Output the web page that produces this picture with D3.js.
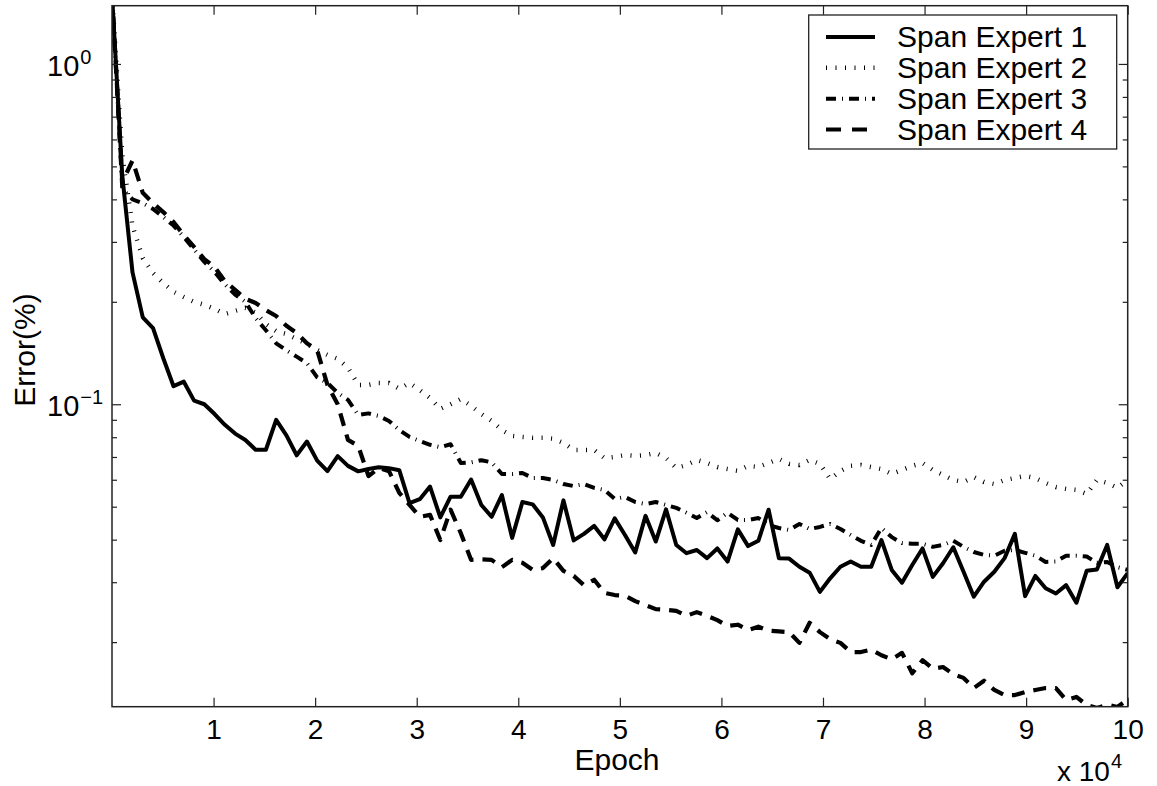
<!DOCTYPE html>
<html>
<head>
<meta charset="utf-8">
<script src="https://cdn.jsdelivr.net/npm/d3@7"></script>
<style>
  body { margin: 0; background: #fff; }
  text { font-family: "Liberation Sans", Arial, Helvetica, sans-serif; fill: #000; }
</style>
</head>
<body>
<div id="chart"></div>
<script>
// 100 samples per run, evenly spread over 0..1e5 epochs
var epochs = d3.range(100).map(i => i * 100000 / 99);

var expert1 = [1.6, 0.47, 0.244, 0.180, 0.1675, 0.1365, 0.113, 0.1165, 0.1025, 0.100,
  0.0936, 0.087, 0.082, 0.0785, 0.0735, 0.0735, 0.090, 0.081, 0.0708, 0.0777,
  0.0683, 0.0636, 0.0704, 0.0659, 0.0635, 0.0645, 0.0653, 0.0649, 0.064, 0.0512,
  0.0526, 0.0573, 0.0465, 0.0535, 0.0535, 0.0601, 0.0506, 0.0467, 0.0541, 0.0405,
  0.0516, 0.0508, 0.0465, 0.0386, 0.0522, 0.0398, 0.0416, 0.0439, 0.0401, 0.0462,
  0.0413, 0.0367, 0.0470, 0.0395, 0.0491, 0.0386, 0.0365, 0.0373, 0.0353, 0.0377,
  0.0345, 0.0429, 0.0383, 0.0397, 0.0490, 0.0353, 0.0352, 0.0333, 0.0320, 0.0281,
  0.0308, 0.0333, 0.0345, 0.0333, 0.0333, 0.0399, 0.0326, 0.0299, 0.0337, 0.0377,
  0.0311, 0.0341, 0.0380, 0.0322, 0.0272, 0.0301, 0.0322, 0.0353, 0.0416, 0.0273,
  0.0313, 0.0288, 0.0278, 0.0294, 0.0261, 0.0324, 0.0327, 0.0386, 0.0290, 0.0319];

var expert2 = [1.6, 0.54, 0.334, 0.269, 0.243, 0.227, 0.214, 0.2066, 0.200, 0.196,
  0.1906, 0.184, 0.188, 0.192, 0.186, 0.172, 0.164, 0.161, 0.1555, 0.1504,
  0.1444, 0.1396, 0.136, 0.128, 0.114, 0.114, 0.1155, 0.1155, 0.111, 0.1155,
  0.110, 0.1044, 0.0969, 0.100, 0.1036, 0.099, 0.0936, 0.0893, 0.084, 0.0807,
  0.0802, 0.0797, 0.0797, 0.0792, 0.077, 0.0734, 0.0734, 0.0734, 0.0695, 0.070,
  0.0709, 0.0705, 0.0709, 0.0719, 0.0695, 0.065, 0.0663, 0.0686, 0.0672, 0.0654,
  0.0645, 0.0637, 0.0659, 0.0654, 0.0672, 0.0691, 0.0668, 0.0663, 0.0686, 0.0668,
  0.0603, 0.0637, 0.0659, 0.0663, 0.0654, 0.0645, 0.0624, 0.0641, 0.0659, 0.0672,
  0.0641, 0.062, 0.0599, 0.0591, 0.0611, 0.0591, 0.0583, 0.0599, 0.0607, 0.0616,
  0.0607, 0.0587, 0.0571, 0.0564, 0.056, 0.0545, 0.0599, 0.0587, 0.0568, 0.0599];

var expert3 = [1.6, 0.43, 0.40, 0.39, 0.375, 0.355, 0.335, 0.31, 0.285, 0.262,
  0.245, 0.225, 0.21, 0.20, 0.179, 0.165, 0.151, 0.144, 0.138, 0.132,
  0.120, 0.1155, 0.108, 0.103, 0.093, 0.094, 0.0924, 0.0893, 0.084, 0.0802,
  0.078, 0.076, 0.0748, 0.0763, 0.0672, 0.0675, 0.0685, 0.0675, 0.0624, 0.0624,
  0.0628, 0.0607, 0.0607, 0.0599, 0.0583, 0.0575, 0.0583, 0.0568, 0.056, 0.0527,
  0.0534, 0.0516, 0.0509, 0.0516, 0.0506, 0.0496, 0.048, 0.0463, 0.0482, 0.0456,
  0.048, 0.0457, 0.0457, 0.0463, 0.0442, 0.0433, 0.0427, 0.0445, 0.043, 0.0436,
  0.0445, 0.043, 0.0413, 0.0397, 0.0386, 0.0433, 0.0407, 0.0391, 0.0389, 0.0389,
  0.0381, 0.0386, 0.0397, 0.0381, 0.0368, 0.0361, 0.0359, 0.0371, 0.0373, 0.0366,
  0.0359, 0.0344, 0.0345, 0.0359, 0.0359, 0.0357, 0.0342, 0.0344, 0.0332, 0.0326];

var expert4 = [1.6, 0.45, 0.52, 0.418, 0.39, 0.367, 0.343, 0.314, 0.29, 0.267,
  0.253, 0.230, 0.217, 0.204, 0.1985, 0.189, 0.1817, 0.170, 0.162, 0.151,
  0.144, 0.114, 0.100, 0.0786, 0.0754, 0.0615, 0.065, 0.0636, 0.0549, 0.0506,
  0.0467, 0.0473, 0.0399, 0.049, 0.0418, 0.0349, 0.035, 0.0349, 0.0332, 0.0349,
  0.0342, 0.0326, 0.033, 0.0353, 0.0324, 0.0313, 0.0294, 0.0305, 0.0279, 0.0275,
  0.0274, 0.0264, 0.0257, 0.025, 0.0249, 0.0247, 0.0239, 0.0245, 0.0239, 0.0232,
  0.0223, 0.0225, 0.0217, 0.0222, 0.0216, 0.0215, 0.0214, 0.0199, 0.0228, 0.0214,
  0.0204, 0.0199, 0.0187, 0.0187, 0.019, 0.0183, 0.0178, 0.0186, 0.0162, 0.0177,
  0.0167, 0.0169, 0.0161, 0.0157, 0.01466, 0.0154, 0.01447, 0.01398, 0.01398, 0.01427,
  0.01447, 0.01466, 0.01466, 0.01352, 0.0138, 0.01307, 0.0128, 0.0131, 0.0129, 0.01355];

var seriesNames = ["Span Expert 1", "Span Expert 2", "Span Expert 3", "Span Expert 4"];
var xTicks = [10000, 20000, 30000, 40000, 50000, 60000, 70000, 80000, 90000, 100000];
var yMajor = [0.1, 1];
var yMinor = [0.02, 0.03, 0.04, 0.05, 0.06, 0.07, 0.08, 0.09, 0.2, 0.3, 0.4, 0.5, 0.6, 0.7, 0.8, 0.9];
var yLabels = [{v: 1, exp: "0"}, {v: 0.1, exp: "\u22121"}];

var series = [
  {name: seriesNames[0], values: expert1, width: 4, dash: null},
  {name: seriesNames[1], values: expert2, width: 4.5, dash: "1,8.5"},
  {name: seriesNames[2], values: expert3, width: 4, dash: "10,6,1,6"},
  {name: seriesNames[3], values: expert4, width: 4.2, dash: "13,9"}
];

var svgWidth = 1157, svgHeight = 786;
var plotLeft = 112, plotRight = 1127.7, plotTop = 5.7, plotBottom = 706.7;
var wordSize = 30, digitSize = 28;

var svg = d3.select("#chart").append("svg")
  .attr("width", svgWidth)
  .attr("height", svgHeight);

var xScale = d3.scaleLinear().domain([0, 100000]).range([plotLeft, plotRight]);
var yScale = d3.scaleLog().domain([0.01292, 1.483]).range([plotBottom, plotTop]);

svg.append("defs").append("clipPath").attr("id", "plotclip")
  .append("rect")
  .attr("x", plotLeft).attr("y", plotTop)
  .attr("width", plotRight - plotLeft).attr("height", plotBottom - plotTop);

// lines
var line = d3.line()
  .x((d, i) => xScale(epochs[i]))
  .y(d => yScale(d));

var lineGroup = svg.append("g").attr("clip-path", "url(#plotclip)");
series.forEach(function(s) {
  lineGroup.append("path")
    .datum(s.values)
    .attr("d", line)
    .attr("fill", "none")
    .attr("stroke", "#000")
    .attr("stroke-width", s.width)
    .attr("stroke-linejoin", "round")
    .attr("stroke-dasharray", s.dash);
});

// axes (matlab style: box, ticks pointing inwards)
function styleAxis(g) {
  g.select(".domain").remove();
  g.selectAll(".tick line").attr("stroke", "#222").attr("stroke-width", 1.2);
}

svg.append("g")
  .attr("transform", `translate(0, ${plotBottom})`)
  .call(d3.axisBottom(xScale).tickValues(xTicks).tickSize(-9).tickPadding(12.5)
    .tickFormat(d => d / 10000))
  .call(styleAxis)
  .selectAll("text")
  .attr("font-size", digitSize)
  .attr("font-family", "Liberation Sans, Arial, sans-serif");

svg.append("g")
  .attr("transform", `translate(0, ${plotTop})`)
  .call(d3.axisTop(xScale).tickValues(xTicks).tickSize(-9).tickFormat(""))
  .call(styleAxis);

[{x: plotLeft, make: d3.axisLeft}, {x: plotRight, make: d3.axisRight}].forEach(function(a) {
  svg.append("g")
    .attr("transform", `translate(${a.x}, 0)`)
    .call(a.make(yScale).tickValues(yMajor).tickSize(-9).tickFormat(""))
    .call(styleAxis);
  svg.append("g")
    .attr("transform", `translate(${a.x}, 0)`)
    .call(a.make(yScale).tickValues(yMinor).tickSize(-5).tickFormat(""))
    .call(styleAxis);
});

svg.append("rect")
  .attr("x", plotLeft).attr("y", plotTop)
  .attr("width", plotRight - plotLeft).attr("height", plotBottom - plotTop)
  .attr("fill", "none")
  .attr("stroke", "#222")
  .attr("stroke-width", 1.5);

// y tick labels 10^0, 10^-1
var yl = svg.selectAll(".ylab")
  .data(yLabels)
  .enter()
  .append("text")
  .attr("class", "ylab")
  .attr("x", 47)
  .attr("y", d => yScale(d.v) + 12)
  .attr("font-size", 29);
yl.append("tspan").text("10");
yl.append("tspan")
  .attr("font-size", 20)
  .attr("dx", 1)
  .attr("dy", -12)
  .text(d => d.exp);

// axis titles
svg.append("text")
  .attr("x", 617)
  .attr("y", 770)
  .attr("text-anchor", "middle")
  .attr("font-size", wordSize)
  .text("Epoch");

svg.append("text")
  .attr("transform", "translate(35, 350) rotate(-90)")
  .attr("text-anchor", "middle")
  .attr("font-size", wordSize)
  .text("Error(%)");

var mult = svg.append("text")
  .attr("x", 1057)
  .attr("y", 781)
  .attr("font-size", digitSize);
mult.append("tspan").text("x 10");
mult.append("tspan").attr("font-size", 20).attr("dx", 1).attr("dy", -13).text("4");

// legend
var legend = svg.append("g");
legend.append("rect")
  .attr("x", 808.7).attr("y", 15)
  .attr("width", 308).attr("height", 134)
  .attr("fill", "#fff")
  .attr("stroke", "#222")
  .attr("stroke-width", 1.3);

var rowY = d3.scalePoint().domain(seriesNames).range([37, 129.5]);
series.forEach(function(s) {
  legend.append("line")
    .attr("x1", 826).attr("x2", 875)
    .attr("y1", rowY(s.name)).attr("y2", rowY(s.name))
    .attr("stroke", "#000")
    .attr("stroke-width", s.width)
    .attr("stroke-dasharray", s.name === seriesNames[3] ? "15,11" : s.dash);
  legend.append("text")
    .attr("x", 897)
    .attr("y", rowY(s.name) + 10)
    .attr("font-size", wordSize)
    .text(s.name);
});
</script>
</body>
</html>
